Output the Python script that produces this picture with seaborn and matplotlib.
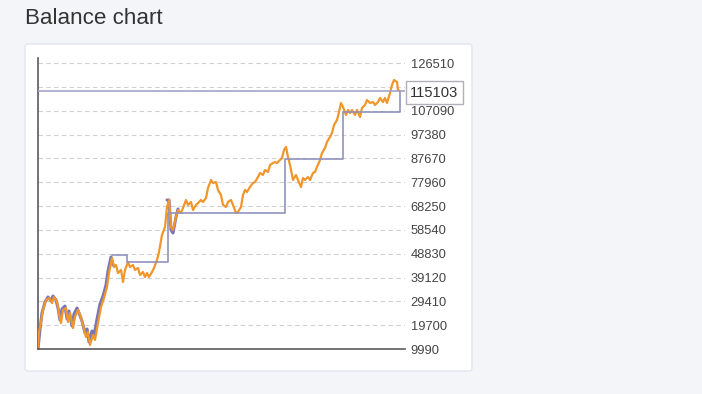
import matplotlib
matplotlib.use("Agg")
import matplotlib.pyplot as plt
import matplotlib.transforms as mtransforms
from matplotlib.patches import FancyBboxPatch
import seaborn as sns
import pandas as pd

# ---------------- data ----------------
balance_day = [0, 1, 3, 5, 8, 11, 14, 16, 19, 21, 23, 25, 28, 30, 32, 35, 37, 40, 42, 45,
               48, 50, 52, 55, 57, 60, 63, 66, 69, 71, 74, 76, 78, 80, 83, 85, 87, 90, 92,
               95, 97, 100, 102, 105, 107, 109, 111, 114, 116, 119, 121, 124, 127, 129, 131,
               133, 135, 138, 140, 143, 145, 148, 150, 153, 155, 158, 160, 163, 165, 168,
               170, 173, 175, 178, 180, 183, 185, 188, 190, 193, 195, 198, 200, 203, 205,
               207, 209, 212, 215, 217, 220, 222, 225, 227, 230, 232, 235, 237, 239, 242,
               244, 246, 248, 250, 252, 253, 255, 258, 260, 263, 265, 267, 270, 272, 275,
               277, 279, 282, 284, 287, 289, 292, 294, 296, 299, 301, 303, 305, 308, 310,
               312, 314, 317, 319, 322, 324, 327, 329, 332, 335, 337, 340, 342, 345, 347,
               349, 352, 354, 356, 359, 360, 362]
balance_val = [10805, 16918, 20993, 25883, 29958, 30773, 28735, 31180, 29143, 24660, 20585,
               25883, 26698, 20993, 24660, 18548, 23030, 25883, 23845, 19770, 14880, 16918,
               11620, 15695, 13658, 20585, 27105, 30773, 35255, 40960, 47073, 43405, 44220,
               40960, 42183, 37293, 42183, 45443, 43405, 44220, 42183, 42998, 40145, 41368,
               39330, 40960, 39330, 41368, 42998, 46258, 49518, 56445, 59705, 67855, 70708,
               59705, 58483, 63780, 66633, 65410, 67448, 70708, 68670, 69893, 66633, 68670,
               69485, 70708, 69893, 71523, 75598, 78858, 77635, 78043, 74783, 72745, 68670,
               67855, 69893, 70708, 68670, 65410, 65818, 67855, 72745, 74783, 73968, 76005,
               77635, 78043, 80080, 81710, 80895, 82933, 82118, 84970, 85785, 86193, 85785,
               87008, 87823, 91083, 92305, 88230, 84970, 82933, 78858, 80895, 78858, 76005,
               79673, 78858, 80080, 78858, 81710, 82118, 84155, 87008, 89860, 91898, 94343,
               96380, 98010, 101270, 103308, 106568, 110235, 108605, 105345, 107383, 106160,
               107383, 105345, 107383, 104530, 108198, 109420, 111458, 110235, 110643, 109420,
               110643, 112273, 110643, 112273, 110235, 114310, 117570, 119608, 118793, 115533,
               115103]

# equity line (visible where it separates from the balance line)
equity_seg = [0] * 31 + [1] * 6
equity_day = [0, 2, 4, 7, 10, 13, 15, 18, 20, 22, 24, 27, 29, 31, 34, 36, 39, 41, 44, 47,
              49, 51, 54, 56, 59, 62, 65, 68, 70, 73, 75,
              129, 131, 133, 135, 138, 140]
equity_val = [9990, 18000, 24660, 29143, 31180, 29550, 31590, 29958, 26698, 21808, 26290,
              27510, 22215, 25475, 19363, 24250, 26698, 24660, 21400, 16510, 18140, 12843,
              17325, 15288, 22215, 28330, 31590, 36070, 41775, 47480, 44220,
              70708, 70708, 58480, 57258, 63780, 67040]

level_day = [74, 89, 130, 247, 305, 362]
level_val = [48295, 45443, 65410, 87415, 106568, 115103]

last_value = 115103
tick_values = [9990, 19700, 29410, 39120, 48830, 58540, 68250, 77960, 87670, 97380,
               107090, 116800, 126510]
hidden_tick = 116800  # covered by the last-value box in the reference
title_text = "Balance chart"

# ---------------- style ----------------
sns.set_style("white")
plt.rcParams["font.family"] = ["Liberation Sans", "DejaVu Sans"]

W, H = 702, 394
fig = plt.figure(figsize=(W / 100, H / 100), dpi=100)
fig.patch.set_facecolor("#f4f5f9")

# card (drawn in a background axes so it stays under the chart)
bg = fig.add_axes([0, 0, 1, 1], zorder=-10)
bg.set_xlim(0, W)
bg.set_ylim(H, 0)
bg.axis("off")
bg.add_patch(FancyBboxPatch((25, 44), 472 - 25, 371 - 44,
                            boxstyle="round,pad=0,rounding_size=3",
                            facecolor="white", edgecolor="#e4e6ee", linewidth=1.0))

fig.text(25 / W, (H - 24) / H, title_text, fontsize=16.1, color="#333333",
         va="baseline", ha="left")

ax = fig.add_axes([38 / W, (H - 349) / H, (405 - 38) / W, (349 - 58) / H], zorder=1)
ax.set_facecolor("none")

df_bal = pd.DataFrame({"day": balance_day, "value": balance_val})
df_eq = pd.DataFrame({"day": equity_day, "value": equity_val, "seg": equity_seg})
df_lvl = pd.DataFrame({"day": level_day, "value": level_val})

sns.lineplot(data=df_eq, x="day", y="value", units="seg", estimator=None, ax=ax,
             color="#7a76b6", linewidth=2.2, sort=False, zorder=2)
sns.lineplot(data=df_bal, x="day", y="value", ax=ax, color="#f0962a", linewidth=1.6,
             sort=False, zorder=3)
sns.lineplot(data=df_lvl, x="day", y="value", ax=ax, color="#9092bd", linewidth=1.2,
             drawstyle="steps-post", sort=False, zorder=4)
ax.axhline(last_value, color="#a3a5c6", linewidth=1.2, zorder=4)

ax.set_xlim(0, 367)
ax.set_ylim(9990, 128573)
ax.set_yticks(tick_values)
ax.set_yticklabels(["" if v == hidden_tick else str(v) for v in tick_values])
ax.yaxis.tick_right()
ax.tick_params(axis="y", length=0, pad=4, labelsize=9.3, labelcolor="#444444")
ax.set_xticks([])
ax.set_xlabel("")
ax.set_ylabel("")
ax.grid(axis="y", linestyle=(0, (4, 3)), color="#cfcfd4", linewidth=0.8)
ax.set_axisbelow(True)
for s in ["top", "right"]:
    ax.spines[s].set_visible(False)
for s in ["left", "bottom"]:
    ax.spines[s].set_color("#5a5a60")
    ax.spines[s].set_linewidth(1.2)

trans = mtransforms.blended_transform_factory(ax.transAxes, ax.transData)
ax.text(1.0 + 5 / 367, last_value - 600, str(last_value), transform=trans, ha="left",
        va="center", fontsize=10.6, color="#333333", zorder=6,
        bbox=dict(boxstyle="square,pad=0.3", facecolor="white", edgecolor="#b0b0b8",
                  linewidth=1.0))

fig.savefig("out.png", dpi=100, facecolor=fig.get_facecolor())
